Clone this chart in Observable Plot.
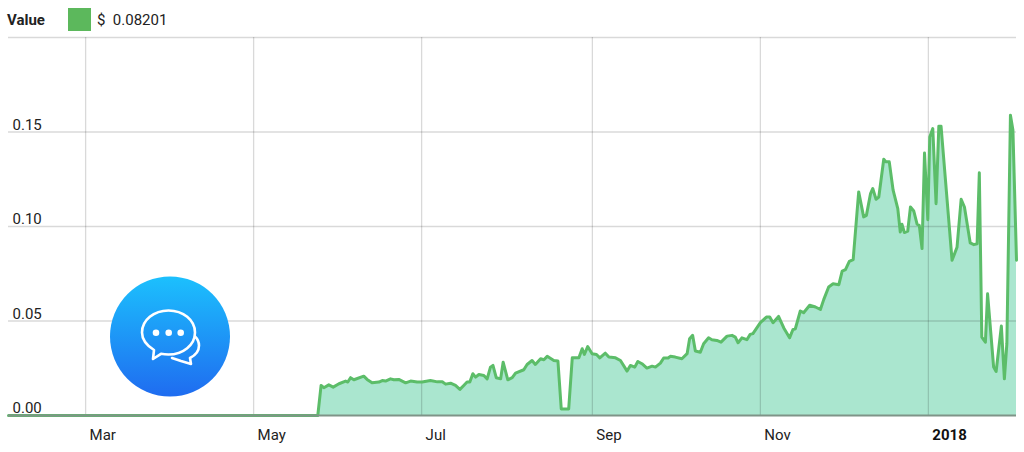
<!DOCTYPE html>
<html>
<head>
<meta charset="utf-8">
<script src="https://cdn.jsdelivr.net/npm/d3@7"></script>
<script src="https://cdn.jsdelivr.net/npm/@observablehq/plot@0.6"></script>
<style>
html,body{margin:0;padding:0;background:#fff;width:1024px;height:452px;overflow:hidden;font-family:Roboto,sans-serif;color:#222}
#wrap{position:relative;width:1024px;height:452px}
#legend{position:absolute;left:7px;top:8px;height:23px;display:flex;align-items:center;font-size:15px}
#legend b{width:61px}
#legend i{display:block;width:23px;height:23px;background:#5cb85c;margin-right:6px}
#chart{position:absolute;left:0;top:30px}
#chart svg{display:block}
#icon{position:absolute;left:110px;top:276px}
</style>
</head>
<body>
<div id="wrap">
  <div id="legend"><b>Value</b><i></i><span>$&nbsp; 0.08201</span></div>
  <div id="chart"></div>
  <svg id="icon" width="120" height="121" viewBox="110 276 120 121">
    <defs><linearGradient id="g" x1="0" y1="0" x2="0" y2="1"><stop offset="0" stop-color="#1cc0fd"/><stop offset="1" stop-color="#1f6cf0"/></linearGradient></defs>
    <circle cx="170" cy="336.5" r="60" fill="url(#g)"/>
    <g fill="none" stroke="#fff" stroke-width="2.6" stroke-linejoin="round" stroke-linecap="round">
      <path d="M153 359 L154 350 C146 345 142 339 142 332.5 C142 320 154 310.5 168.5 310.5 C183 310.5 195 320 195 332.5 C195 345 183 354.5 168.5 354.5 C166 354.5 163.5 354.3 161 353.8 Z"/>
      <path d="M172 358 L181 361 L191 364 L190 358 C196 355 199 350 199 345.5 C199 342 197.5 339 195 336.5"/>
    </g>
    <g fill="#fff"><circle cx="156" cy="332.7" r="3.3"/><circle cx="168.7" cy="332.7" r="3.3"/><circle cx="180.7" cy="332.7" r="3.3"/></g>
  </svg>
</div>
<script>
// Days since 1 Mar 2017
const days = [-28,84.3,85.5,86.5,88.3,89.9,92,94.4,95.2,96.2,97.4,101,102.2,104,106.5,107.7,108.9,110.7,111.9,113.7,116.2,118,120.4,122.2,125.2,127.7,129.5,130.7,132.5,134.3,135.9,137.3,138.5,139.5,140.6,141.6,142.8,144.6,145.8,147,147.9,149.1,150.7,151.6,153.3,154.9,156.1,159.1,160.3,162.1,163.3,165.2,166.4,167.6,170,171.5,172.7,175.4,176.7,179.1,180.3,181.1,182.3,183.9,185.5,186.7,188.7,190,192.4,194.2,196.6,197.8,199.4,200.5,202,203.8,205.7,206.9,208.7,209.9,211.5,212.3,214.1,216.5,218.4,219.3,220.4,221.4,223.2,224.4,226.2,227.4,229.2,230.7,232.9,234.7,235.9,236.9,238.3,240.1,241.3,242.3,245,247.2,248.4,249.6,251.6,253.5,255.6,256.8,257.7,259.5,260.7,262.9,265,266.8,268,269.8,271.4,273.5,274.7,275.9,277.3,278.7,280.7,282.5,283.5,285,285.8,287,288,288.8,289.8,290.6,291.8,293.2,294.9,295.8,296.4,297.3,298.5,299.5,300.7,301.9,302.7,303.7,304.6,305.8,306.5,307.6,308.8,309.8,310.6,314.6,316.4,317.9,319.1,321.2,322.5,323.7,324.5,325.4,326.7,327.5,329.7,330.6,332.5,333.6,334.5,335.8,336.7,338];
const values = [0,0,.0159,.0147,.0162,.0150,.0168,.0182,.0177,.0200,.0189,.0208,.0191,.0173,.0177,.0185,.0182,.0194,.0189,.0191,.0173,.0182,.0177,.0177,.0185,.0178,.0178,.0166,.0171,.0159,.0138,.0159,.0177,.0177,.0221,.0203,.0217,.0212,.0194,.0256,.0265,.0200,.0194,.0282,.0189,.0200,.0224,.0242,.0270,.0291,.0270,.0300,.0295,.0313,.0291,.0288,.0035,.0035,.0305,.0305,.0353,.0323,.0365,.0327,.0323,.0305,.0330,.0309,.0305,.0291,.0235,.0265,.0256,.0286,.0274,.0251,.0261,.0256,.0277,.0304,.0304,.0313,.0309,.0300,.0327,.0406,.0424,.0341,.0335,.0380,.0411,.0401,.0397,.0388,.0420,.0424,.0415,.0385,.0411,.0401,.0429,.0433,.0491,.0521,.0521,.0491,.0524,.0463,.0411,.0454,.0459,.0553,.0544,.0583,.0574,.0561,.0613,.0680,.0697,.0692,.0764,.0772,.0816,.0825,.1183,.1051,.1059,.1174,.1201,.1144,.1156,.1245,.1356,.1342,.1342,.1192,.1095,.0971,.1012,.0968,.0975,.1103,.1082,.1012,.1006,.0883,.1389,.1036,.1474,.1518,.1121,.1531,.1531,.0821,.0890,.1144,.1103,.0913,.0904,.0909,.1284,.0415,.0388,.0644,.0256,.0233,.0473,.0194,.0380,.1589,.1510,.0821];
const monthTicks = ["2017-03-01","2017-05-01","2017-07-01","2017-09-01","2017-11-01"];
const monthLabels = ["Mar","May","Jul","Sep","Nov"];
const yearTicks = ["2018-01-01"];
const yearLabels = ["2018"];
const yTicks = [0,0.05,0.10,0.15,0.20];
const yLabels = ["0.00","0.05","0.10","0.15",""];

const origin = Date.UTC(2017,2,1);
const toDate = d => new Date(origin + d*864e5);
const series = days.map((d,i)=>({date:toDate(d),value:values[i]}));
const monthDates = monthTicks.map(s=>new Date(s));
const yearDates = yearTicks.map(s=>new Date(s));
const allX = monthDates.concat(yearDates);
const fontSize = 15;

const plot = Plot.plot({
  width:1024, height:422,
  marginTop:7, marginBottom:37, marginLeft:8, marginRight:8,
  style:{fontFamily:"Roboto, sans-serif",fontSize:fontSize+"px",color:"#222",background:"transparent"},
  x:{type:"utc",domain:[toDate(-28),toDate(338)],label:null},
  y:{domain:[0,0.2],label:null},
  marks:[
    Plot.areaY(series,{x:"date",y:"value",fill:"#aae6cf"}),
    Plot.ruleY(yTicks.filter(v=>v>0),{stroke:"#000",strokeOpacity:0.15,strokeWidth:1.3}),
    Plot.ruleX(allX,{stroke:"#000",strokeOpacity:0.15,strokeWidth:1.3}),
    Plot.lineY(series,{x:"date",y:"value",stroke:"#5cbd69",strokeWidth:3,strokeLinejoin:"round"}),
    Plot.ruleY([0],{stroke:"#7f9488",strokeWidth:2}),
    Plot.axisY({ticks:yTicks,tickFormat:(v,i)=>yLabels[i],tickSize:0,tickPadding:0,anchor:"left",textAnchor:"start",dx:4,dy:-7,fill:"#222",label:null}),
    Plot.axisX({ticks:monthDates,tickFormat:(d,i)=>monthLabels[i],tickSize:0,tickPadding:14,textAnchor:"start",dx:4,fill:"#222",label:null}),
    Plot.axisX({ticks:yearDates,tickFormat:(d,i)=>yearLabels[i],tickSize:0,tickPadding:14,textAnchor:"start",dx:4,fill:"#111",fontWeight:"bold",label:null})
  ]
});
document.getElementById("chart").appendChild(plot);
</script>
</body>
</html>
